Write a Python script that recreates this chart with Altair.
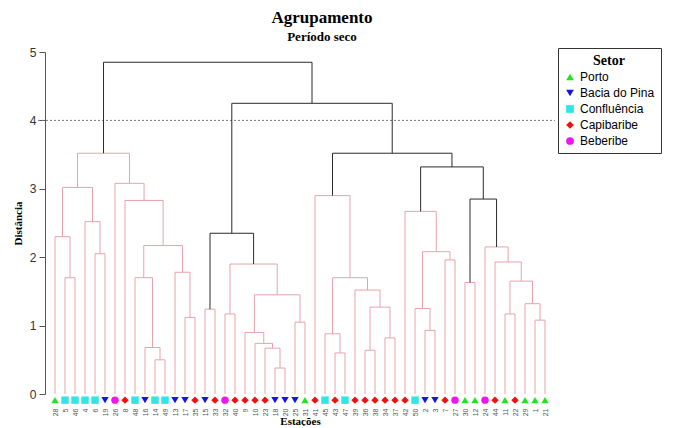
import altair as alt
import pandas as pd

# Leaves (left to right) and their sector
stations = ["28", "5", "46", "4", "6", "19", "26", "8", "48", "16", "14", "49", "13", "17", "35",
            "15", "33", "32", "40", "9", "10", "23", "18", "20", "25", "31", "41", "45", "43", "47",
            "39", "36", "38", "34", "37", "42", "50", "2", "3", "7", "27", "30", "12", "24", "44",
            "11", "22", "29", "1", "21"]
P, B, C, CA, BE = "Porto", "Bacia do Pina", "Confluência", "Capibaribe", "Beberibe"
sectors = [P, C, C, C, C, B, BE, CA, C, B, C, C, B, B, CA,
           B, CA, BE, CA, CA, CA, CA, B, B, B, P, CA, C, CA, C,
           CA, CA, CA, CA, CA, CA, C, B, B, CA, BE, P, P, BE, CA,
           P, CA, P, P, P]
sector_order = [P, B, C, CA, BE]
sector_colors = ["#1fe61f", "#1414e6", "#2ee6e6", "#f01010", "#f014f0"]
sector_shapes = ["triangle-up", "triangle-down", "square", "diamond", "circle"]

# Merges: children are leaf positions (int) or earlier merges ("m<k>")
merge_a = [1, 0, 4, 3, "m1", 10, 9, 8, 13, 12, "m7", 7, 6, "m4",
           15, 17, 22, 21, 20, 19, 24, "m19", "m15", "m14",
           28, 27, 31, 33, "m26", 30, "m25", 26,
           37, 36, 39, "m33", 35, 41, 48, 47, 45, "m40", 44, 43, "m37", "m36", "m31", "m23", "m13"]
merge_b = [2, "m0", 5, "m2", "m3", 11, "m5", "m6", 14, "m8", "m9", "m10", "m11", "m12",
           16, 18, 23, "m16", "m17", "m18", 25, "m20", "m21", "m22",
           29, "m24", 32, 34, "m27", "m28", "m29", "m30",
           38, "m32", 40, "m34", "m35", 42, 49, "m38", 46, "m39", "m41", "m42", "m43", "m44", "m45", "m46", "m47"]
merge_h = [1.70, 2.30, 2.05, 2.52, 3.02, 0.50, 0.68, 1.70, 1.12, 1.78, 2.17, 2.83, 3.08, 3.52,
           1.24, 1.17, 0.38, 0.67, 0.74, 0.90, 1.05, 1.45, 1.90, 2.35,
           0.60, 0.88, 0.64, 0.82, 1.27, 1.52, 1.70, 2.90,
           0.93, 1.25, 1.96, 2.08, 2.67, 1.63, 1.08, 1.32, 1.17, 1.65, 1.93, 2.15, 2.85, 3.32, 3.52, 4.25, 4.85]
merge_dark = [False] * 23 + [True] + [False] * 20 + [True, True, True, True, True]
cutoff = 4.0

pos = {i: float(i) for i in range(len(stations))}
hgt = {i: 0.0 for i in range(len(stations))}
segs = []
for k, (a, b, h, dk) in enumerate(zip(merge_a, merge_b, merge_h, merge_dark)):
    c = "dark" if dk else "light"
    xa, xb = pos[a], pos[b]
    segs.append(dict(x0=xa, x1=xb, y0=h, y1=h, c=c))
    segs.append(dict(x0=xa, x1=xa, y0=h, y1=hgt[a], c=c))
    segs.append(dict(x0=xb, x1=xb, y0=h, y1=hgt[b], c=c))
    pos[f"m{k}"] = (xa + xb) / 2
    hgt[f"m{k}"] = h
segs_df = pd.DataFrame(segs)
segs_df["order"] = (segs_df["c"] == "dark").astype(int)
segs_df = segs_df.sort_values("order", kind="stable")

leaves_df = pd.DataFrame({"idx": list(range(len(stations))), "sector": sectors, "y": -0.09})

xscale = alt.Scale(domain=[-1, len(stations)], nice=False, zero=False)
yscale = alt.Scale(domain=[0, 5], nice=False)
label_arr = "[" + ",".join(f"'{s}'" for s in stations) + "]"
xaxis = alt.Axis(values=list(range(len(stations))), labelExpr=f"{label_arr}[datum.value]",
                 labelAngle=270, labelFontSize=7, labelColor="#555", labelPadding=14,
                 labelOverlap=False, labelFlush=False, domain=False, ticks=False, grid=False,
                 title="Estações", titleFont="Liberation Serif", titleFontSize=11,
                 titleFontWeight="bold", titlePadding=0)
yaxis = alt.Axis(values=[0, 1, 2, 3, 4, 5], grid=False, domainColor="#555", tickColor="#555",
                 tickSize=6, labelFont="Liberation Sans", labelFontSize=12, labelColor="#333",
                 labelPadding=3, title="Distância", titleFont="Liberation Serif",
                 titleFontSize=11, titleFontWeight="bold", titlePadding=6)

rules = alt.Chart(segs_df).mark_rule(strokeWidth=1).encode(
    x=alt.X("x0:Q", scale=xscale, axis=xaxis),
    x2="x1:Q",
    y=alt.Y("y0:Q", scale=yscale, axis=yaxis),
    y2="y1:Q",
    stroke=alt.Stroke("c:N", scale=alt.Scale(domain=["light", "dark"], range=["#e8a2ab", "#2a2a2a"]),
                      legend=None),
)

cut_df = pd.DataFrame({"v": [cutoff]})
cut = alt.Chart(cut_df).mark_rule(strokeDash=[2, 2], color="#777", strokeWidth=1).encode(
    y=alt.Y("v:Q", scale=yscale, axis=yaxis),
    x=alt.value(-7), x2=alt.value(510),
)

points = alt.Chart(leaves_df).mark_point(filled=True, size=55, opacity=1).encode(
    x=alt.X("idx:Q", scale=xscale, axis=xaxis),
    y=alt.Y("y:Q", scale=yscale, axis=yaxis),
    color=alt.Color("sector:N", scale=alt.Scale(domain=sector_order, range=sector_colors),
                    legend=alt.Legend(title="Setor", orient="none", legendX=513, legendY=-4)),
    shape=alt.Shape("sector:N", scale=alt.Scale(domain=sector_order, range=sector_shapes),
                    legend=alt.Legend(title="Setor", orient="none", legendX=513, legendY=-4)),
)

chart = alt.layer(cut, rules, points).properties(
    width=510, height=342,
    autosize=alt.AutoSizeParams(type="none"),
    padding={"left": 37, "top": 44, "right": 110, "bottom": 32},
    title=alt.TitleParams("Agrupamento", subtitle="Período seco", font="Liberation Serif",
                          fontSize=17, fontWeight="bold", color="black",
                          subtitleFont="Liberation Serif", subtitleFontSize=13,
                          subtitleFontWeight="bold", subtitleColor="black",
                          subtitlePadding=4, anchor="middle", frame="group", dx=22, offset=1),
).configure_view(stroke=None).configure_legend(
    strokeColor="#333", fillColor="white", padding=6, cornerRadius=0,
    titleFont="Liberation Serif", titleFontSize=14, titleFontWeight="bold", titleColor="black",
    titleAnchor="middle", titlePadding=3, labelFont="Liberation Sans", labelFontSize=12,
    labelColor="black", symbolSize=60, rowPadding=4, symbolStrokeWidth=0, labelLimit=200,
)

chart.save("out.html", embed_options={"renderer": "svg", "actions": False})
